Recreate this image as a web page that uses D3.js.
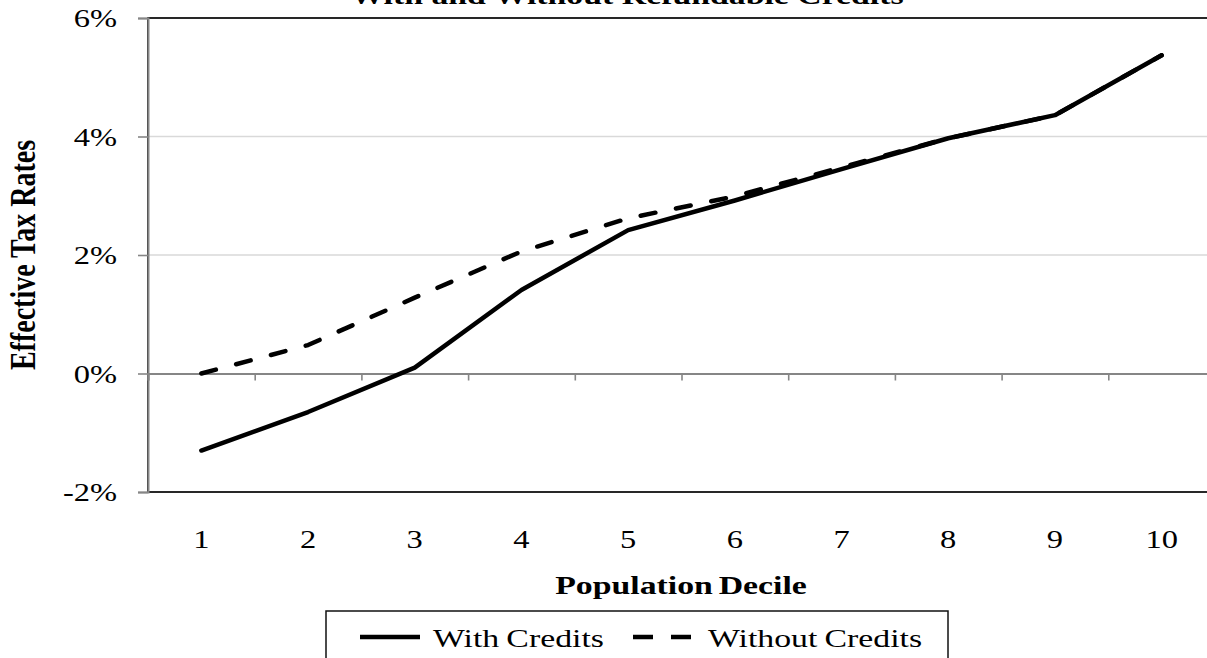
<!DOCTYPE html>
<html>
<head>
<meta charset="utf-8">
<script src="https://cdn.jsdelivr.net/npm/d3@7"></script>
<style>
  html, body { margin: 0; padding: 0; background: #fff; }
  svg { display: block; }
  text { font-family: "Liberation Serif", "Times New Roman", serif; fill: #000; }
</style>
</head>
<body>
<svg id="chart" width="1207" height="658"></svg>
<script>
// ---- data ----
const categories = ["1", "2", "3", "4", "5", "6", "7", "8", "9", "10"];
const withCredits = [-1.30, -0.65, 0.10, 1.41, 2.42, 2.92, 3.45, 3.97, 4.36, 5.37];
const withoutCredits = [0.00, 0.48, 1.28, 2.06, 2.62, 2.99, 3.48, 3.97, 4.36, 5.37];
const yTickValues = [-2, 0, 2, 4, 6];
const seriesNames = ["With Credits", "Without Credits"];
const titleText = "With and Without Refundable Credits";
const xTitle = "Population Decile";
const yTitle = "Effective Tax Rates";

// ---- layout ----
const SX = 1.3; // horizontal stretch of the original picture
const pLeft = 148, pRight = 1215, pTop = 18, pBottom = 492;
const svg = d3.select("#chart");

const x = d3.scaleBand().domain(categories).range([pLeft, pRight]);
const xb = d3.scaleLinear().domain([0, categories.length]).range([pLeft, pRight]);
const y = d3.scaleLinear().domain([-2, 6]).range([pBottom, pTop]);

// gridlines
svg.append("g").selectAll("line")
  .data(yTickValues.filter(v => v !== -2 && v !== 0 && v !== 6))
  .join("line")
  .attr("x1", pLeft).attr("x2", pRight)
  .attr("y1", d => y(d)).attr("y2", d => y(d))
  .attr("stroke", "#d9d9d9").attr("stroke-width", 1.5);

// plot border (top / bottom / right)
svg.append("rect")
  .attr("x", pLeft).attr("y", pTop)
  .attr("width", pRight - pLeft).attr("height", pBottom - pTop)
  .attr("fill", "none").attr("stroke", "#111").attr("stroke-width", 1.8);

// zero line with boundary ticks
const zeroAxis = svg.append("g")
  .attr("transform", `translate(0,${y(0)})`)
  .call(d3.axisBottom(xb).tickValues(d3.range(0, categories.length + 1)).tickSize(7).tickFormat(""));
zeroAxis.select(".domain").attr("stroke", "#868686").attr("stroke-width", 2);
zeroAxis.selectAll(".tick line").attr("stroke", "#868686").attr("stroke-width", 1.6);

// left axis
const yAxis = svg.append("g")
  .attr("transform", `translate(${pLeft},0)`)
  .call(d3.axisLeft(y).tickValues(yTickValues).tickSize(10).tickFormat(d => d + "%"));
yAxis.select(".domain").attr("stroke", "#868686").attr("stroke-width", 2);
yAxis.selectAll(".tick line").attr("stroke", "#868686").attr("stroke-width", 1.6);
yAxis.selectAll(".tick text")
  .attr("font-size", 25)
  .attr("font-family", "Liberation Serif, Times New Roman, serif")
  .attr("fill", "#000")
  .attr("x", -31 / SX)
  .attr("dy", "0.34em")
  .attr("transform", `scale(${SX},1)`);

// bottom category labels
const xAxis = svg.append("g")
  .attr("transform", `translate(0,${pBottom})`)
  .call(d3.axisBottom(x).tickSize(0).tickPadding(0));
xAxis.select(".domain").remove();
xAxis.selectAll(".tick text")
  .attr("font-size", 25)
  .attr("font-family", "Liberation Serif, Times New Roman, serif")
  .attr("fill", "#000")
  .attr("y", 56.5)
  .attr("dy", 0)
  .attr("x", 0)
  .attr("transform", `scale(${SX},1)`);

// lines
const line = d3.line()
  .x((d, i) => x(categories[i]) + x.bandwidth() / 2)
  .y(d => y(d));

svg.append("path")
  .datum(withoutCredits)
  .attr("d", line)
  .attr("fill", "none").attr("stroke", "#000").attr("stroke-width", 4.5)
  .attr("stroke-linecap", "round").attr("stroke-linejoin", "round")
  .attr("stroke-dasharray", "15 21");

svg.append("path")
  .datum(withCredits)
  .attr("d", line)
  .attr("fill", "none").attr("stroke", "#000").attr("stroke-width", 4.5)
  .attr("stroke-linecap", "round").attr("stroke-linejoin", "round");

// title (cut off at top)
svg.append("text")
  .attr("transform", `translate(627,4) scale(${SX},1)`)
  .attr("text-anchor", "middle")
  .attr("font-size", 26).attr("font-weight", "bold")
  .text(titleText);

// x title
svg.append("text")
  .attr("transform", `translate(681,594) scale(${SX},1)`)
  .attr("text-anchor", "middle")
  .attr("font-size", 26).attr("font-weight", "bold")
  .attr("word-spacing", -2)
  .text(xTitle);

// y title
svg.append("text")
  .attr("transform", `translate(35,255) scale(${SX},1) rotate(-90)`)
  .attr("text-anchor", "middle")
  .attr("font-size", 28).attr("font-weight", "bold")
  .text(yTitle);

// legend
const lg = svg.append("g");
lg.append("rect")
  .attr("x", 326).attr("y", 611).attr("width", 622).attr("height", 80)
  .attr("fill", "#fff").attr("stroke", "#111").attr("stroke-width", 1.5);
const legendItems = [
  { name: seriesNames[0], x1: 360, x2: 420, tx: 433, dash: null },
  { name: seriesNames[1], x1: 633, x2: 695, tx: 708, dash: "20 18" }
];
legendItems.forEach(it => {
  lg.append("line")
    .attr("x1", it.x1).attr("x2", it.x2).attr("y1", 637).attr("y2", 637)
    .attr("stroke", "#000").attr("stroke-width", 4.5)
    .attr("stroke-dasharray", it.dash);
  lg.append("text")
    .attr("transform", `translate(${it.tx},647) scale(${SX},1)`)
    .attr("font-size", 26)
    .attr("word-spacing", -1)
    .text(it.name);
});
</script>
</body>
</html>
